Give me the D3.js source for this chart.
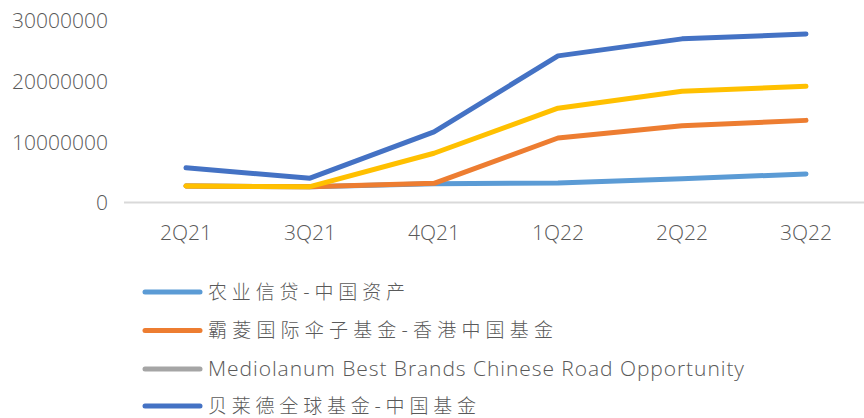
<!DOCTYPE html>
<html><head><meta charset="utf-8">
<script src="https://cdn.jsdelivr.net/npm/d3@7"></script>
<style>body{margin:0;background:#fff}svg{display:block}</style>
</head><body>
<svg id="c" width="864" height="418"></svg>
<script>
const categories = ["2Q21","3Q21","4Q21","1Q22","2Q22","3Q22"];
const yTicks = [0, 10000000, 20000000, 30000000];
const seriesNames = ["农业信贷-中国资产","霸菱国际伞子基金-香港中国基金","Mediolanum Best Brands Chinese Road Opportunity","贝莱德全球基金-中国基金"];
const agricole = [2700000, 2600000, 3100000, 3200000, 3900000, 4700000];
const barings = [2700000, 2600000, 3150000, 10600000, 12600000, 13500000];
const mediolanum = [null, null, null, null, null, null];
const fifthSeries = [2700000, 2600000, 8100000, 15500000, 18300000, 19100000];
const blackrock = [5700000, 4000000, 11600000, 24100000, 26900000, 27700000];
const colors = ["#5B9BD5","#ED7D31","#A5A5A5","#4472C4"];
const yellow = "#FFC000";

const svg = d3.select("#c");
const x = d3.scaleBand().domain(categories).range([124, 868]);
const y = d3.scaleLinear().domain([0, 30000000]).range([202.5, 20]);

const yAxis = d3.axisLeft(y).tickValues(yTicks).tickSize(0).tickPadding(0).tickFormat(d3.format("d"));
const gy = svg.append("g").attr("transform","translate(108,0)").call(yAxis);
gy.select(".domain").remove();
gy.selectAll("text").attr("font-family","Open Sans").attr("font-weight",300).attr("font-size","21px").attr("fill","#595959").attr("dy","0.35em");

const xAxis = d3.axisBottom(x).tickSize(0).tickPadding(0);
const gx = svg.append("g").attr("transform",`translate(0,${y(0)})`).call(xAxis);
gx.select(".domain").attr("stroke","#D9D9D9").attr("stroke-width",2).attr("d","M124,0H864");
gx.selectAll("text").attr("font-family","Open Sans").attr("font-weight",300).attr("font-size","21px").attr("fill","#595959").attr("dy","0").attr("y",37);

const line = d3.line().defined(d => d != null).x((d,i) => x(categories[i]) + x.bandwidth()/2).y(d => y(d));
const data = [[agricole, colors[0]],[barings, colors[1]],[mediolanum, colors[2]],[fifthSeries, yellow],[blackrock, colors[3]]];
data.forEach(([vals,col]) => {
  svg.append("path").datum(vals).attr("d", line).attr("fill","none").attr("stroke",col)
    .attr("stroke-width",5).attr("stroke-linecap","round").attr("stroke-linejoin","round");
});

const legY = [292, 330.5, 369, 406];
const legW = [197, 345, 536, 268];
seriesNames.forEach((n,i) => {
  const g = svg.append("g").attr("transform",`translate(0,${legY[i]})`);
  g.append("line").attr("x1",145).attr("x2",200).attr("y1",0).attr("y2",0)
    .attr("stroke",colors[i]).attr("stroke-width",5).attr("stroke-linecap","round");
  g.append("text").attr("x",208).attr("y",0).attr("dy","0.35em")
    .attr("font-family", i===2 ? "Open Sans" : "Noto Sans CJK SC")
    .attr("font-weight",300)
    .attr("font-size", i===2 ? "21px" : "19px").attr("fill","#595959")
    .attr("textLength", legW[i]).attr("lengthAdjust","spacing").text(n);
});
</script>
</body></html>
